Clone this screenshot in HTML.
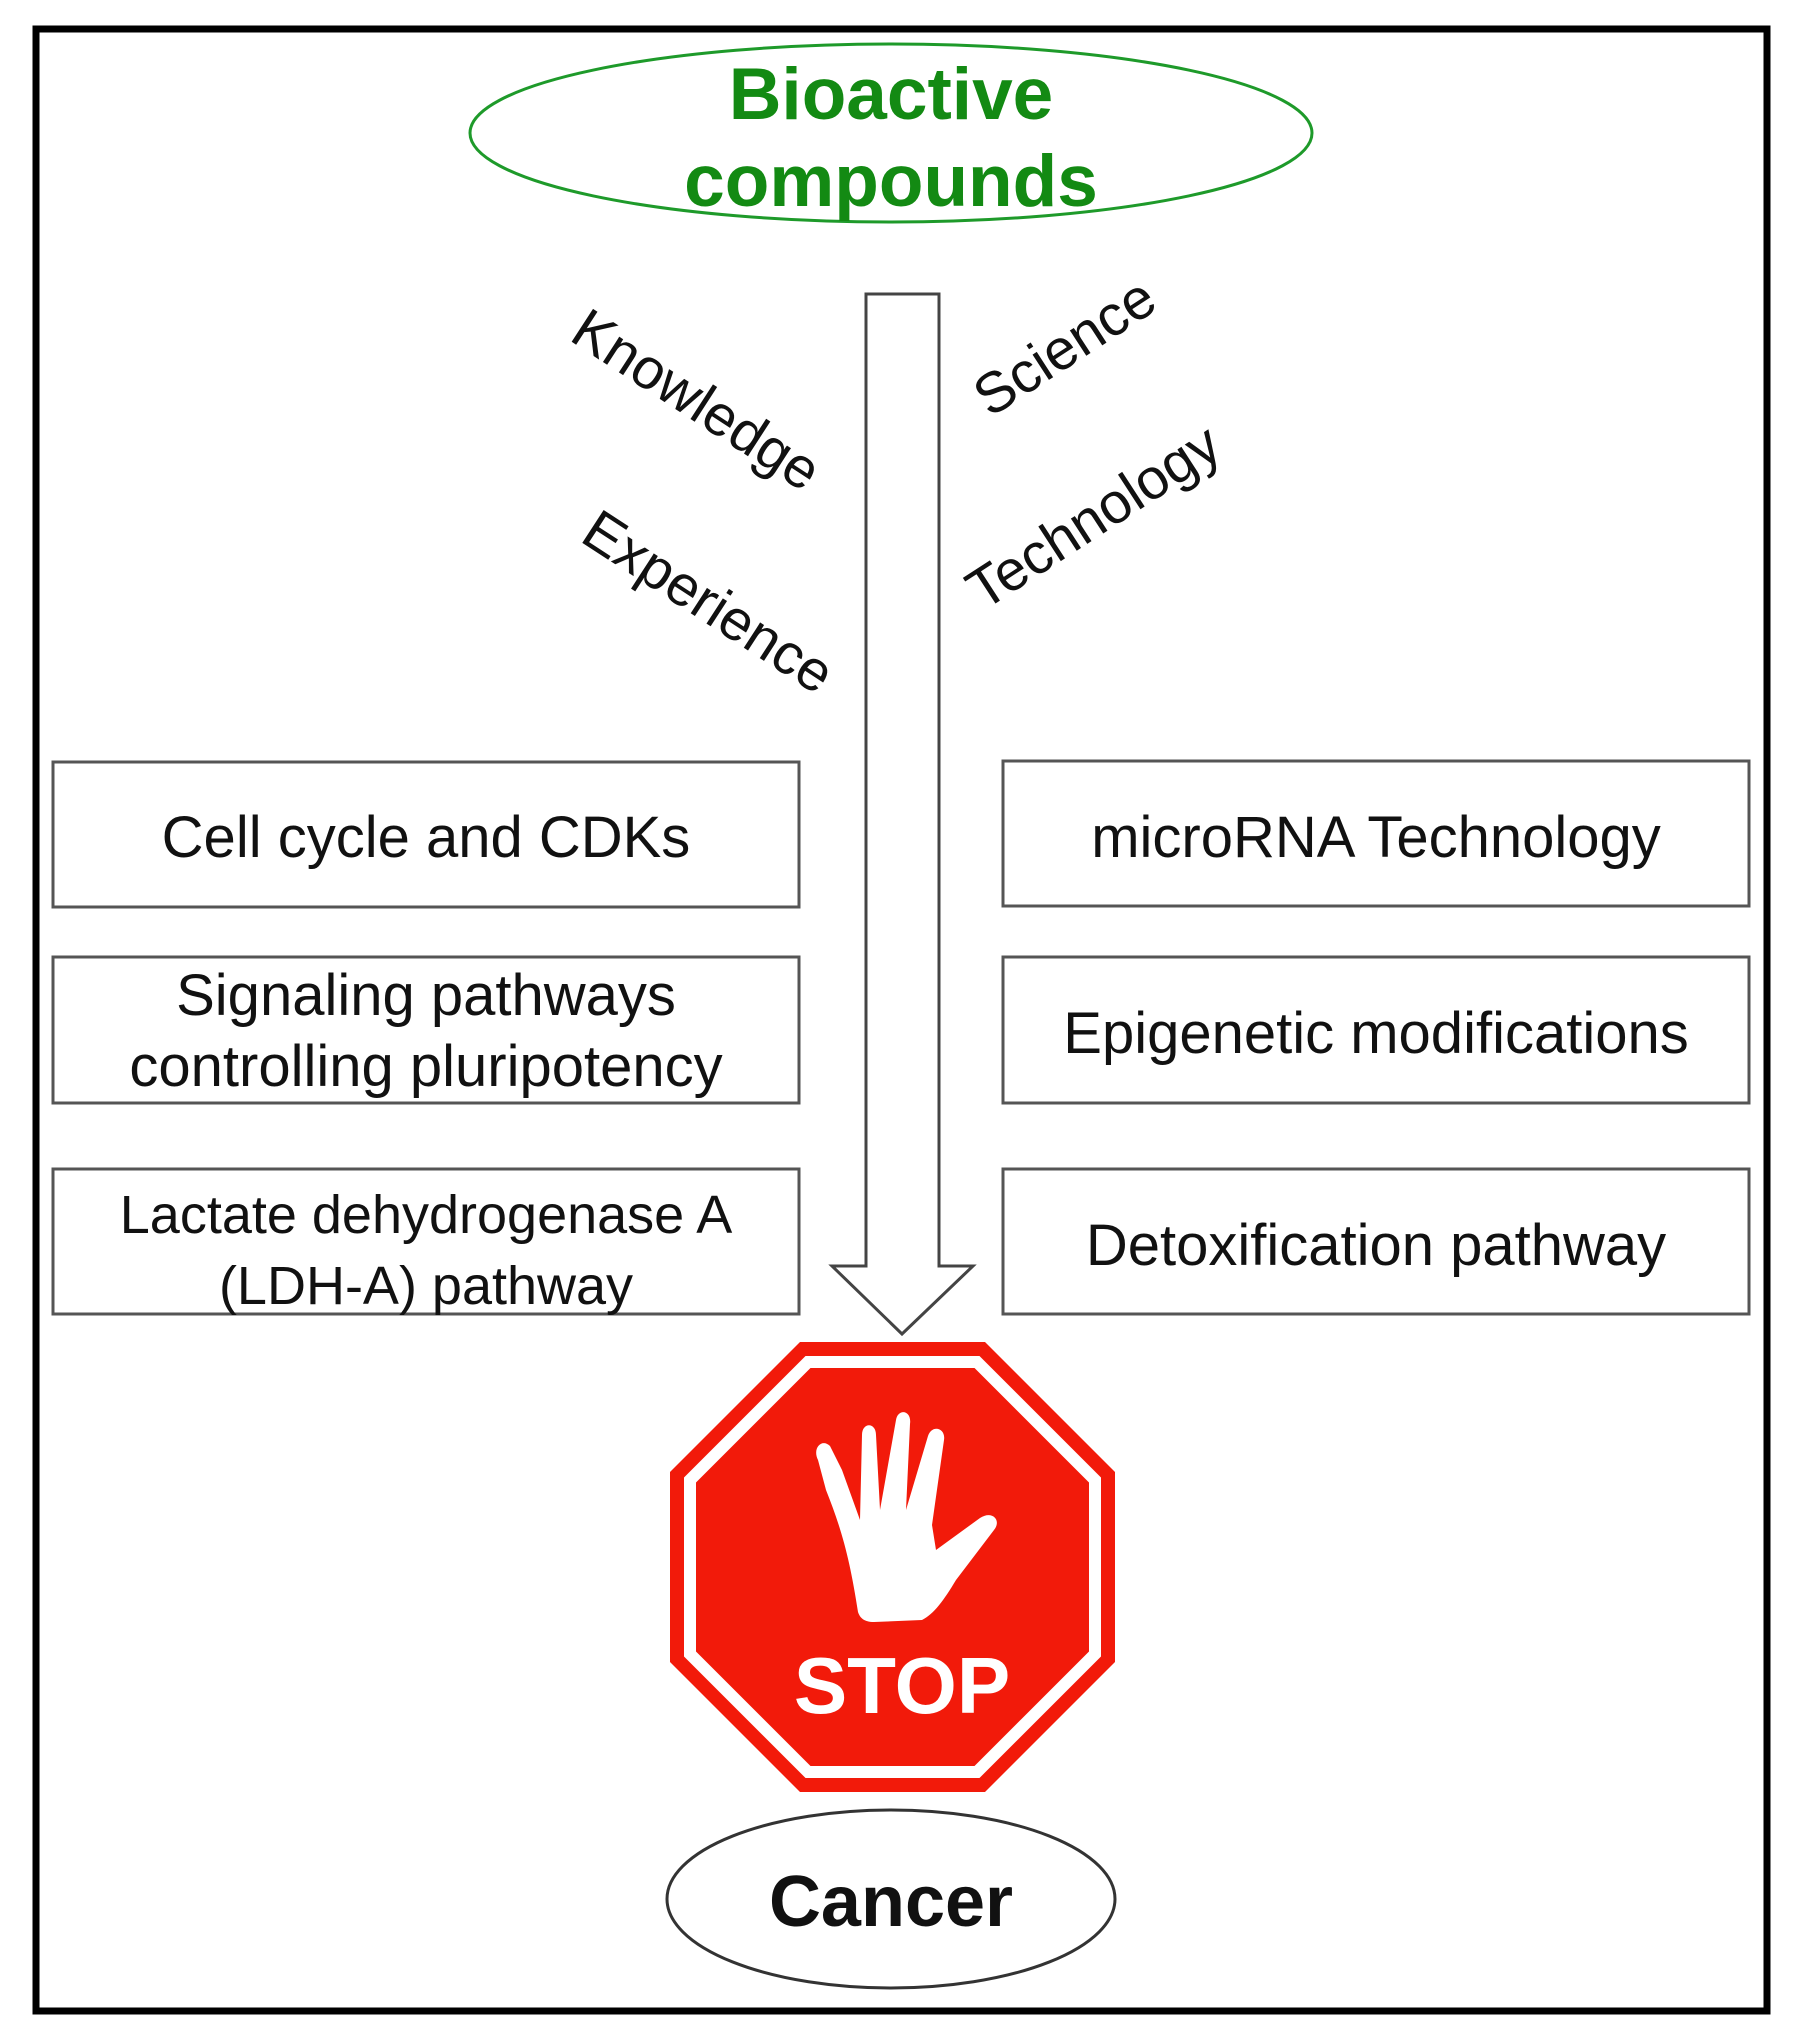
<!DOCTYPE html>
<html><head><style>
html,body{margin:0;padding:0;background:#fff}
svg{display:block}
text{font-family:"Liberation Sans",sans-serif}
</style></head><body>
<svg width="1801" height="2036" viewBox="0 0 1801 2036" xmlns="http://www.w3.org/2000/svg">
<rect x="0" y="0" width="1801" height="2036" fill="#fff"/>
<rect x="36" y="29" width="1731" height="1982" fill="none" stroke="#000" stroke-width="7"/>
<ellipse cx="891" cy="133" rx="421" ry="89" fill="none" stroke="#1e9a2a" stroke-width="3"/>
<text x="891" y="119" font-size="73" font-weight="bold" fill="#138a13" text-anchor="middle">Bioactive</text>
<text x="891" y="206" font-size="73" font-weight="bold" fill="#138a13" text-anchor="middle">compounds</text>
<path d="M866 294 L939 294 L939 1266 L973 1266 L902 1334 L832 1266 L866 1266 Z" fill="#fff" stroke="#444" stroke-width="3"/>
<g font-size="57" fill="#111" text-anchor="middle">
<text transform="translate(686,416) rotate(33)">Knowledge</text>
<text transform="translate(698,618) rotate(33)">Experience</text>
<text transform="translate(1075,363) rotate(-33)">Science</text>
<text transform="translate(1104,533) rotate(-33)">Technology</text>
</g>
<g fill="#fff" stroke="#555" stroke-width="3">
<rect x="53" y="762" width="746" height="145"/>
<rect x="53" y="957" width="746" height="146"/>
<rect x="53" y="1169" width="746" height="145"/>
<rect x="1003" y="761" width="746" height="145"/>
<rect x="1003" y="957" width="746" height="146"/>
<rect x="1003" y="1169" width="746" height="145"/>
</g>
<g font-size="58" fill="#111" text-anchor="middle">
<text x="426" y="857">Cell cycle and CDKs</text>
<text x="426" y="1015">Signaling pathways</text>
<text x="426" y="1086">controlling pluripotency</text>
<text x="426" y="1233" font-size="54">Lactate dehydrogenase A</text>
<text x="426" y="1304" font-size="54">(LDH-A) pathway</text>
<text x="1376" y="857">microRNA Technology</text>
<text x="1376" y="1053">Epigenetic modifications</text>
<text x="1376" y="1265">Detoxification pathway</text>
</g>
<polygon points="800,1342 985,1342 1115,1472 1115,1662 985,1792 800,1792 670,1662 670,1472" fill="#f21a0a"/>
<polygon points="808,1362 977,1362 1095,1480 1095,1654 977,1772 808,1772 690,1654 690,1480" fill="none" stroke="#fff" stroke-width="12"/>
<path d="M858 1612 C850 1560 842 1530 826 1490 L818 1460 C812 1448 822 1438 830 1446 L842 1470 L860 1520 L862 1435 C862 1422 876 1422 876 1435 L880 1510 L896 1420 C898 1408 912 1410 910 1424 L906 1510 L928 1436 C932 1424 946 1428 944 1440 L932 1525 L936 1550 L980 1518 C992 1510 1002 1520 994 1530 L956 1580 C944 1600 934 1614 922 1620 L874 1622 C864 1622 860 1618 858 1612 Z" fill="#fff"/>
<text x="902" y="1713" font-size="80" font-weight="bold" fill="#fff" text-anchor="middle">STOP</text>
<ellipse cx="891" cy="1899" rx="224" ry="89" fill="#fff" stroke="#333" stroke-width="3"/>
<text x="891" y="1926" font-size="72" font-weight="bold" fill="#111" text-anchor="middle">Cancer</text>
</svg>
</body></html>
